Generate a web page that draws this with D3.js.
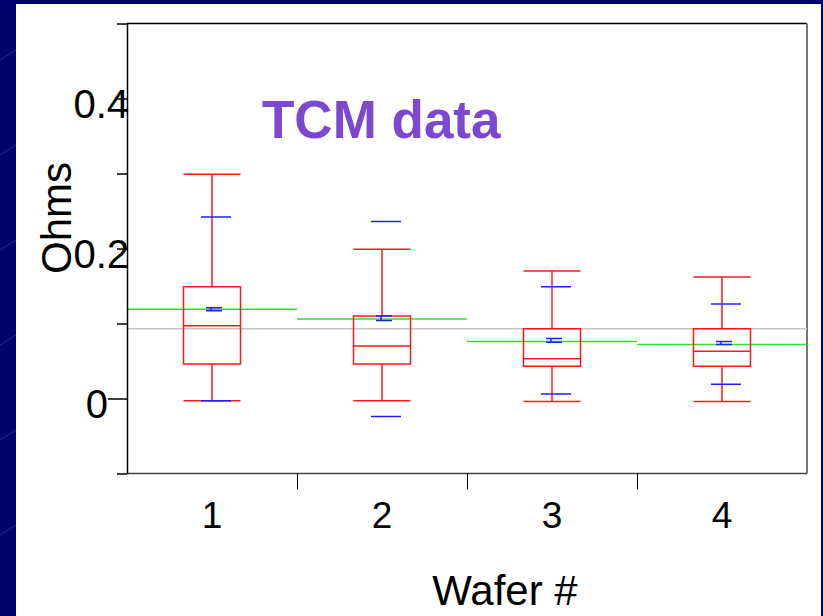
<!DOCTYPE html>
<meta charset="utf-8">
<style>
    body { margin: 0; background: #02026e; }
    svg { display: block; font-family: "Liberation Sans", Arial, sans-serif; }
</style>
<body>
<div id="plotarea"></div>
<script src="https://cdn.jsdelivr.net/npm/d3@7/dist/d3.min.js"></script>
<script>

    // values
    var wafers     = ["1", "2", "3", "4"];
    var q1         = [0.046, 0.046, 0.043, 0.043];
    var median     = [0.097, 0.070, 0.053, 0.063];
    var q3         = [0.149, 0.110, 0.093, 0.093];
    var whiskerLo  = [-0.003, -0.003, -0.004, -0.004];
    var whiskerHi  = [0.299, 0.199, 0.170, 0.162];
    var pctLo      = [-0.003, -0.024, 0.006, 0.019];
    var pctHi      = [0.242, 0.236, 0.149, 0.126];
    var meanLo     = [0.117, 0.104, 0.075, 0.072];
    var meanHi     = [0.121, 0.110, 0.080, 0.076];
    var groupMean  = [0.119, 0.106, 0.076, 0.072];
    var grandMean  = 0.093;
    var yTicks     = [-0.1, 0, 0.1, 0.2, 0.3, 0.4, 0.5];
    var yLabels    = {"0": "0", "0.2": "0.2", "0.4": "0.4"};

    var W = 823, H = 616;
    var pLeft = 127, pRight = 807, pTop = 23.5, pBottom = 473.5;

    var svg = d3.select("#plotarea").append("svg")
            .attr("width", W)
            .attr("height", H);

    // slide background with faint diagonal streaks
    var defs = svg.append("defs");
    var pat = defs.append("pattern")
            .attr("id", "streaks")
            .attr("width", 110).attr("height", 95)
            .attr("patternUnits", "userSpaceOnUse");
    pat.append("line")
            .attr("x1", 0).attr("y1", 60).attr("x2", 40).attr("y2", 35)
            .attr("stroke", "#5a6ad8").attr("stroke-opacity", 0.45).attr("stroke-width", 0.8);
    pat.append("line")
            .attr("x1", 60).attr("y1", 95).attr("x2", 95).attr("y2", 72)
            .attr("stroke", "#5a6ad8").attr("stroke-opacity", 0.35).attr("stroke-width", 0.8);

    svg.append("rect").attr("width", W).attr("height", H).attr("fill", "#02026e");
    svg.append("rect").attr("width", W).attr("height", H).attr("fill", "url(#streaks)");

    // white panel
    svg.append("rect")
            .attr("x", 16).attr("y", 4)
            .attr("width", 805).attr("height", H)
            .attr("fill", "#fff");

    var y = d3.scaleLinear().domain([-0.1, 0.5]).range([pBottom, pTop]);
    var x = d3.scaleBand().domain(wafers).range([pLeft, pRight]);
    var xPos = d3.scaleLinear().domain([0.5, 4.5]).range([pLeft, pRight]);

    var cx = function(i) { return x(wafers[i]) + x.bandwidth() / 2; };
    var idx = d3.range(wafers.length);

    // frame
    svg.append("line").attr("x1", pLeft).attr("x2", pRight).attr("y1", pTop).attr("y2", pTop)
            .attr("stroke", "#000").attr("stroke-width", 1.5);
    svg.append("line").attr("x1", pRight).attr("x2", pRight).attr("y1", pTop).attr("y2", pBottom)
            .attr("stroke", "#777").attr("stroke-width", 2);
    svg.append("line").attr("x1", pLeft).attr("x2", pRight).attr("y1", pBottom).attr("y2", pBottom)
            .attr("stroke", "#444").attr("stroke-width", 1.5);

    // grand mean (grey) and per-wafer means (green)
    svg.append("line")
            .attr("x1", pLeft).attr("x2", pRight)
            .attr("y1", y(grandMean)).attr("y2", y(grandMean))
            .attr("stroke", "#c4c4c4").attr("stroke-width", 1.5);

    svg.selectAll(".gmean").data(idx).enter().append("line")
            .attr("class", "gmean")
            .attr("x1", function(i) { return x(wafers[i]); })
            .attr("x2", function(i) { return x(wafers[i]) + x.bandwidth(); })
            .attr("y1", function(i) { return y(groupMean[i]); })
            .attr("y2", function(i) { return y(groupMean[i]); })
            .attr("stroke", "#33dd33").attr("stroke-width", 1.5);

    // boxes
    var bw = 57, cap = 57, pw = 30, mw = 16;
    var red = "#ff1a1a", blue = "#2020ff";
    var g = svg.selectAll(".box").data(idx).enter().append("g").attr("class", "box");

    g.append("line")
            .attr("x1", cx).attr("x2", cx)
            .attr("y1", function(i) { return y(whiskerHi[i]); })
            .attr("y2", function(i) { return y(q3[i]); })
            .attr("stroke", red).attr("stroke-width", 1.5);
    g.append("line")
            .attr("x1", cx).attr("x2", cx)
            .attr("y1", function(i) { return y(q1[i]); })
            .attr("y2", function(i) { return y(whiskerLo[i]); })
            .attr("stroke", red).attr("stroke-width", 1.5);
    [whiskerHi, whiskerLo].forEach(function(arr) {
        g.append("line")
                .attr("x1", function(i) { return cx(i) - cap / 2; })
                .attr("x2", function(i) { return cx(i) + cap / 2; })
                .attr("y1", function(i) { return y(arr[i]); })
                .attr("y2", function(i) { return y(arr[i]); })
                .attr("stroke", red).attr("stroke-width", 1.5);
    });
    g.append("rect")
            .attr("x", function(i) { return cx(i) - bw / 2; })
            .attr("width", bw)
            .attr("y", function(i) { return y(q3[i]); })
            .attr("height", function(i) { return y(q1[i]) - y(q3[i]); })
            .attr("fill", "none").attr("stroke", red).attr("stroke-width", 1.5);
    g.append("line")
            .attr("x1", function(i) { return cx(i) - bw / 2; })
            .attr("x2", function(i) { return cx(i) + bw / 2; })
            .attr("y1", function(i) { return y(median[i]); })
            .attr("y2", function(i) { return y(median[i]); })
            .attr("stroke", red).attr("stroke-width", 1.5);

    // blue percentile marks
    [pctHi, pctLo].forEach(function(arr) {
        g.append("line")
                .attr("x1", function(i) { return cx(i) + 4 - pw / 2; })
                .attr("x2", function(i) { return cx(i) + 4 + pw / 2; })
                .attr("y1", function(i) { return y(arr[i]); })
                .attr("y2", function(i) { return y(arr[i]); })
                .attr("stroke", blue).attr("stroke-width", 1.5);
    });

    // blue mean error bar
    [meanHi, meanLo].forEach(function(arr) {
        g.append("line")
                .attr("x1", function(i) { return cx(i) + 2 - mw / 2; })
                .attr("x2", function(i) { return cx(i) + 2 + mw / 2; })
                .attr("y1", function(i) { return y(arr[i]); })
                .attr("y2", function(i) { return y(arr[i]); })
                .attr("stroke", blue).attr("stroke-width", 1.5);
    });
    g.append("line")
            .attr("x1", function(i) { return cx(i) - 1; })
            .attr("x2", function(i) { return cx(i) - 1; })
            .attr("y1", function(i) { return y(meanHi[i]); })
            .attr("y2", function(i) { return y(meanLo[i]); })
            .attr("stroke", blue).attr("stroke-width", 1.5);

    // y axis
    var yAxis = svg.append("g")
            .attr("transform", "translate(" + pLeft + ",0)")
            .call(d3.axisLeft(y).tickValues(yTicks).tickSize(10).tickSizeOuter(0)
                    .tickFormat(function(d) { return yLabels[String(+d.toFixed(1))] || ""; }));
    yAxis.select(".domain").attr("stroke", "#000").attr("stroke-width", 1.5);
    yAxis.selectAll(".tick line").attr("stroke", "#000").attr("stroke-width", 1.5)
            .attr("x2", function(d) { return Math.abs(d) < 1e-9 ? -19 : -10; });
    yAxis.selectAll(".tick text")
            .attr("fill", "#000")
            .style("font-size", "40px")
            .attr("dy", "0.47em")
            .attr("x", function(d) { return Math.abs(d) < 1e-9 ? -19 : 2; });

    // x axis: band boundary ticks and centred labels
    var xAxis = svg.append("g")
            .attr("transform", "translate(0," + pBottom + ")")
            .call(d3.axisBottom(xPos).tickValues([1.5, 2.5, 3.5]).tickSize(16).tickSizeOuter(0).tickFormat(""));
    xAxis.select(".domain").remove();
    xAxis.selectAll(".tick line").attr("stroke", "#000").attr("stroke-width", 1);

    var xLab = svg.append("g")
            .attr("transform", "translate(0," + pBottom + ")")
            .call(d3.axisBottom(x).tickSize(0));
    xLab.select(".domain").remove();
    xLab.selectAll(".tick text")
            .attr("fill", "#000")
            .style("font-size", "37px")
            .attr("y", 28).attr("dy", "0.71em");

    // titles
    svg.append("text")
            .attr("x", 505).attr("y", 605)
            .attr("text-anchor", "middle")
            .style("font-size", "42px")
            .text("Wafer #");

    svg.append("text")
            .attr("transform", "translate(71,218) rotate(-90)")
            .attr("text-anchor", "middle")
            .style("font-size", "42px")
            .text("Ohms");

    svg.append("text")
            .attr("x", 262).attr("y", 138)
            .style("font-size", "53px")
            .style("font-weight", "bold")
            .attr("fill", "#7b48cf")
            .text("TCM data");

</script>
</body>
